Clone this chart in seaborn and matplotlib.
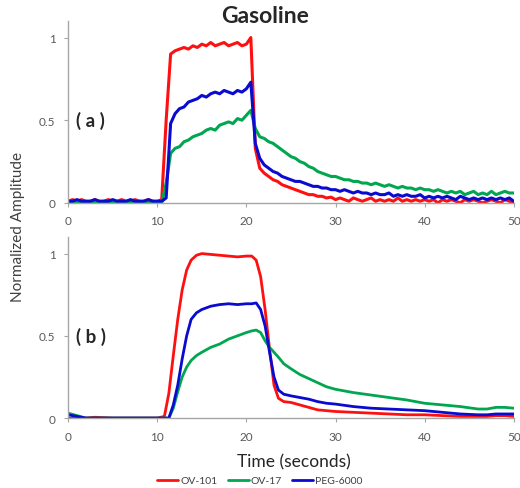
import numpy as np
import pandas as pd
import matplotlib
matplotlib.use('Agg')
import matplotlib.pyplot as plt
import seaborn as sns

sns.set_style('white')
plt.rcParams['font.family'] = ['Lato', 'DejaVu Sans']

columns = ['OV-101', 'OV-17', 'PEG-6000']
colors = {'OV-101': '#ff1010', 'OV-17': '#00a650', 'PEG-6000': '#0a0ad0'}

# (a) raw signal, sampled every 0.5 s from 0 to 50 s
time_a = np.arange(0, 50.5, 0.5)
ov101_a = [0.01, 0.02, 0.01, 0.02, 0.01, 0.01, 0.02, 0.01, 0.01, 0.02, 0.01,
           0.01, 0.02, 0.01, 0.01, 0.02, 0.01, 0.01, 0.02, 0.01, 0.01, 0.02,
           0.50, 0.90, 0.92, 0.93, 0.94, 0.93, 0.95, 0.94, 0.96, 0.95,
           0.97, 0.95, 0.96, 0.97, 0.95, 0.96, 0.97, 0.95, 0.96, 1.00,
           0.33, 0.21, 0.18, 0.16, 0.14, 0.13, 0.11, 0.10, 0.09, 0.08,
           0.07, 0.06, 0.05, 0.05, 0.04, 0.04, 0.03, 0.035, 0.02,
           0.03, 0.02, 0.01, 0.03, 0.02, 0.01, 0.02, 0.03, 0.01, 0.02,
           0.01, 0.02, 0.01, 0.03, 0.01, 0.02, 0.01, 0.02, 0.01, 0.02,
           0.01, 0.02, 0.00, 0.02, 0.01, 0.02, 0.01, 0.00, 0.02, 0.01,
           0.02, 0.01, 0.00, 0.01, 0.02, 0.01, 0.00, 0.02, 0.01, 0.00]
ov17_a = [0.00, 0.01, 0.00, 0.01, 0.00, 0.01, 0.00, 0.00, 0.01, 0.00, 0.01,
          0.00, 0.01, 0.00, 0.00, 0.01, 0.00, 0.01, 0.00, 0.01, 0.00, 0.00,
          0.12, 0.30, 0.33, 0.34, 0.37, 0.38, 0.40, 0.41, 0.42, 0.44,
          0.45, 0.44, 0.47, 0.48, 0.49, 0.48, 0.51, 0.50, 0.53, 0.56,
          0.45, 0.40, 0.39, 0.37, 0.36, 0.34, 0.32, 0.30, 0.28, 0.27,
          0.25, 0.24, 0.22, 0.21, 0.19, 0.18, 0.17, 0.16, 0.16,
          0.15, 0.14, 0.14, 0.13, 0.13, 0.12, 0.12, 0.11, 0.12, 0.11,
          0.10, 0.11, 0.10, 0.09, 0.10, 0.09, 0.09, 0.08, 0.09, 0.08,
          0.08, 0.07, 0.08, 0.07, 0.06, 0.07, 0.06, 0.07, 0.05, 0.06,
          0.07, 0.05, 0.06, 0.05, 0.07, 0.05, 0.06, 0.07, 0.06, 0.06]
peg6000_a = [0.01, 0.01, 0.02, 0.01, 0.01, 0.01, 0.02, 0.01, 0.01, 0.01, 0.02,
             0.01, 0.01, 0.01, 0.02, 0.01, 0.01, 0.01, 0.02, 0.01, 0.01, 0.01,
             0.03, 0.48, 0.54, 0.57, 0.58, 0.61, 0.62, 0.63, 0.65, 0.64,
             0.66, 0.67, 0.66, 0.68, 0.67, 0.66, 0.68, 0.67, 0.69, 0.73,
             0.36, 0.27, 0.23, 0.21, 0.19, 0.18, 0.16, 0.15, 0.14, 0.13,
             0.13, 0.12, 0.11, 0.10, 0.10, 0.09, 0.09, 0.08, 0.08,
             0.07, 0.08, 0.07, 0.06, 0.07, 0.06, 0.06, 0.05, 0.06, 0.05,
             0.05, 0.06, 0.04, 0.05, 0.04, 0.05, 0.04, 0.04, 0.05, 0.03,
             0.04, 0.03, 0.04, 0.03, 0.04, 0.03, 0.02, 0.04, 0.03, 0.02,
             0.03, 0.02, 0.03, 0.02, 0.03, 0.02, 0.03, 0.02, 0.03, 0.01]

# (b) smoothed signal
time_b = [0, 1, 2, 3, 5, 8, 10, 10.8, 11.3, 11.8, 12.3, 12.8, 13.3, 13.8, 14.4,
          15, 16, 17, 18, 19, 20, 20.6, 21.1, 21.6, 22.1, 22.6, 23.1, 23.6,
          24.2, 25, 26, 27, 28, 29, 30, 32, 34, 36, 38, 40, 42, 44, 46, 47,
          48, 49, 50]
ov101_b = [0.0, 0.0, 0.0, 0.005, 0.0, 0.0, 0.0, 0.01, 0.15, 0.38, 0.60, 0.78,
           0.90, 0.96, 0.99, 1.0, 0.995, 0.99, 0.985, 0.98, 0.985, 0.985,
           0.96, 0.86, 0.66, 0.42, 0.20, 0.12, 0.10, 0.095, 0.08, 0.065,
           0.05, 0.045, 0.04, 0.035, 0.03, 0.025, 0.02, 0.02, 0.015, 0.01,
           0.01, 0.01, 0.015, 0.015, 0.01]
ov17_b = [0.03, 0.015, 0.0, 0.0, 0.0, 0.0, 0.0, 0.0, 0.0, 0.06, 0.16, 0.25,
          0.31, 0.35, 0.38, 0.40, 0.43, 0.45, 0.48, 0.50, 0.52, 0.53,
          0.535, 0.52, 0.47, 0.43, 0.40, 0.37, 0.33, 0.30, 0.265, 0.24,
          0.215, 0.19, 0.175, 0.155, 0.14, 0.125, 0.11, 0.09, 0.08, 0.07,
          0.055, 0.055, 0.065, 0.065, 0.06]
peg6000_b = [0.02, 0.01, 0.0, 0.0, 0.0, 0.0, 0.0, 0.0, 0.0, 0.08, 0.20, 0.36,
             0.50, 0.60, 0.64, 0.66, 0.68, 0.69, 0.695, 0.69, 0.695, 0.695,
             0.70, 0.66, 0.56, 0.40, 0.25, 0.17, 0.145, 0.135, 0.125, 0.115,
             0.10, 0.09, 0.085, 0.07, 0.06, 0.055, 0.05, 0.045, 0.035, 0.025,
             0.02, 0.02, 0.025, 0.025, 0.025]


def long_df(t, series):
    frames = []
    for name, vals in zip(columns, series):
        frames.append(pd.DataFrame({'time': t, 'amp': vals, 'column': name}))
    return pd.concat(frames, ignore_index=True)


df_a = long_df(time_a, [ov101_a, ov17_a, peg6000_a])
df_b = long_df(time_b, [ov101_b, ov17_b, peg6000_b])

fig = plt.figure(figsize=(5.2, 4.89), dpi=100)
ax_a = fig.add_axes([0.131, 0.583, 0.857, 0.372])
ax_b = fig.add_axes([0.131, 0.143, 0.857, 0.370])

for ax, df, tag, lw in [(ax_a, df_a, '( a )', 2.2), (ax_b, df_b, '( b )', 2.0)]:
    sns.lineplot(data=df, x='time', y='amp', hue='column', palette=colors,
                 estimator=None, sort=False, linewidth=lw, ax=ax, legend=(ax is ax_b))
    ax.set_xlim(0, 50)
    ax.set_ylim(0, 1.1)
    ax.set_xticks([0, 10, 20, 30, 40, 50])
    ax.set_yticks([0, 0.5, 1])
    ax.set_yticklabels(['0', '0.5', '1'])
    ax.set_xlabel('')
    ax.set_ylabel('')
    for s in ['top', 'right']:
        ax.spines[s].set_visible(False)
    for s in ['left', 'bottom']:
        ax.spines[s].set_color('#a6a6a6')
        ax.spines[s].set_linewidth(1.0)
    ax.tick_params(axis='both', length=3, width=0.8, color='#a6a6a6',
                   labelsize=8.5, labelcolor='#595959', pad=6, direction='out',
                   bottom=True, left=True)
    ax.text(0.9, 0.5, tag, fontsize=13.5, fontweight='bold', va='center', ha='left')

fig.text(0.51, 0.967, 'Gasoline', fontsize=16.5, fontweight='bold', ha='center', va='center')
fig.text(0.035, 0.535, 'Normalized Amplitude', fontsize=11, rotation=90,
         ha='center', va='center', color='#404040')
fig.text(0.565, 0.055, 'Time (seconds)', fontsize=12.5, ha='center', va='center', color='#262626')

handles, labels = ax_b.get_legend_handles_labels()
ax_b.get_legend().remove()
fig.legend(handles, labels, loc='center', bbox_to_anchor=(0.5, 0.015), ncol=3,
           frameon=False, fontsize=7.5, handlelength=2.0, handletextpad=0.2,
           columnspacing=1.0, labelcolor='#404040')

fig.savefig('out.png', dpi=100)
